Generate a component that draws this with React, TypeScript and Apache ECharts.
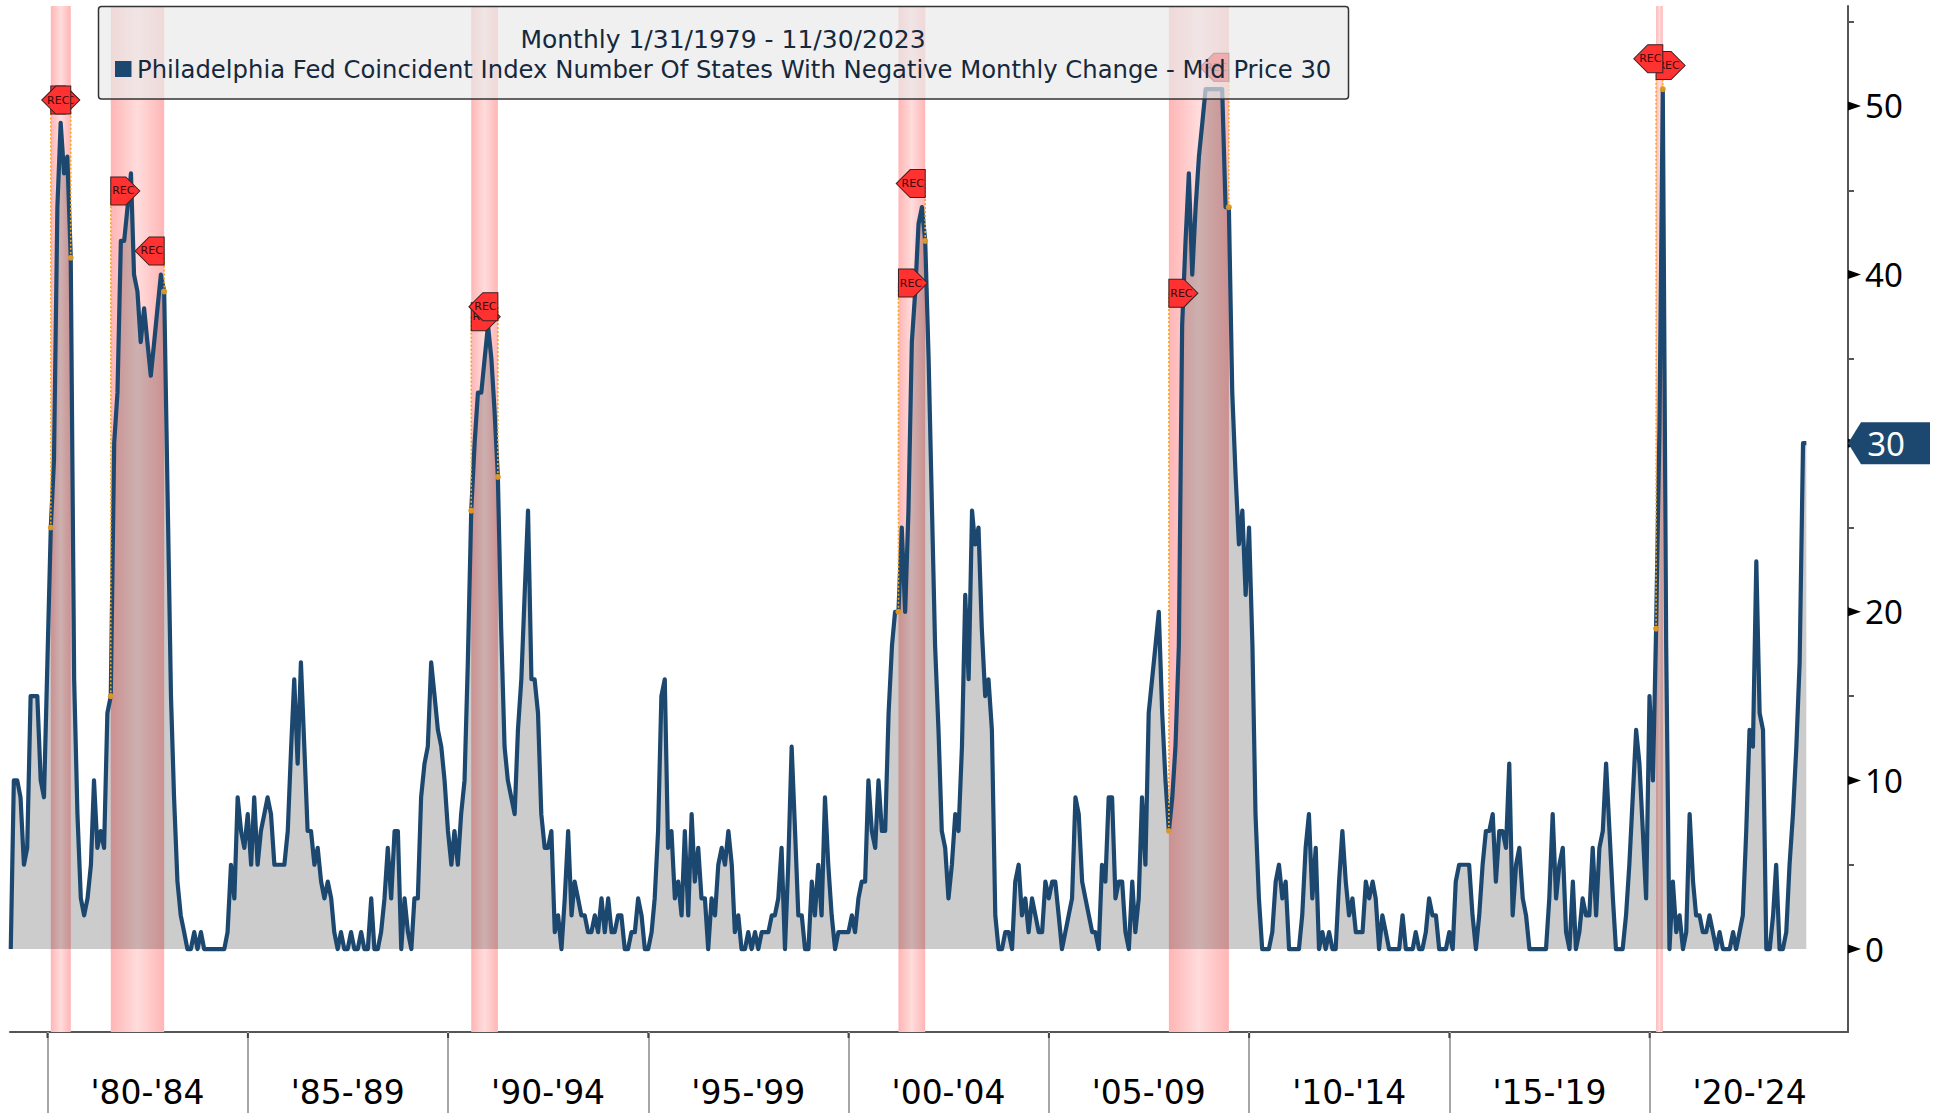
import React, { useEffect, useRef } from "react";
import * as echarts from "echarts";

const values1979to1984 = [
  0,10,10,9,5,6,15,15,15,10,9,17,
  25,29,44,49,46,47,41,16,8,3,2,3,
  5,10,6,7,6,14,15,30,33,42,42,44,
  46,40,39,36,38,36,34,36,38,40,39,27,
  15,9,4,2,1,0,0,1,0,1,0,0,
  0,0,0,0,0,1,5,3,9,7,6,8,
];
const values1985to1989 = [
  5,9,5,7,8,9,8,5,5,5,5,7,
  12,16,11,17,12,7,7,5,6,4,3,4,
  3,1,0,1,0,0,1,0,0,1,0,0,
  3,0,0,1,3,6,3,7,7,0,3,1,
  0,3,3,9,11,12,17,15,13,12,10,7,
];
const values1990to1994 = [
  5,7,5,8,10,17,26,30,33,33,35,37,
  35,32,28,19,12,10,9,8,13,16,21,26,
  16,16,14,8,6,6,7,1,2,0,3,7,
  2,4,3,2,2,1,1,2,1,3,1,3,
  1,1,2,2,0,0,1,1,3,2,0,0,
];
const values1995to1999 = [
  1,3,7,15,16,6,7,3,4,2,7,2,
  8,4,6,3,3,0,3,2,5,6,5,7,
  5,1,2,0,0,1,0,1,0,1,1,1,
  2,2,3,6,0,5,12,7,2,2,0,0,
  4,2,5,2,9,5,2,0,1,1,1,1,
];
const values2000to2004 = [
  2,1,3,4,4,10,7,6,10,7,7,14,
  18,20,20,25,20,26,36,39,43,44,42,35,
  26,18,13,7,6,3,5,8,7,12,21,16,
  26,24,25,19,15,16,13,2,0,0,1,1,
  0,4,5,2,3,1,3,2,1,1,4,3,
];
const values2005to2009 = [
  4,4,2,0,1,2,3,9,8,4,3,2,
  1,1,0,5,4,9,9,3,4,4,1,0,
  4,1,3,9,5,14,16,18,20,14,10,7,
  9,12,18,37,42,46,40,44,47,49,51,51,
  51,51,51,51,44,44,33,28,24,26,21,25,
];
const values2010to2014 = [
  18,8,3,0,0,0,1,4,5,3,4,0,
  0,0,0,2,6,8,3,6,0,1,0,1,
  0,0,4,7,4,2,3,1,1,1,4,3,
  4,3,0,2,1,0,0,0,0,2,0,0,
  0,1,0,0,1,3,2,2,0,0,0,1,
];
const values2015to2019 = [
  0,4,5,5,5,5,2,0,2,5,7,7,
  8,4,7,7,6,11,2,5,6,3,2,0,
  0,0,0,0,0,3,8,3,5,6,1,0,
  4,0,1,3,2,2,6,2,6,7,11,7,
  3,0,0,0,2,5,9,13,11,7,3,15,
];
const values2020to2023 = [
  10,19,31,51,18,0,4,1,2,0,1,8,
  4,2,2,1,1,2,1,0,1,0,0,0,
  1,0,1,2,7,13,12,23,14,13,0,0,
  2,5,0,0,1,5,8,12,17,30,30,
];
const seriesValues = [
  ...values1979to1984, ...values1985to1989, ...values1990to1994,
  ...values1995to1999, ...values2000to2004, ...values2005to2009,
  ...values2010to2014, ...values2015to2019, ...values2020to2023,
];

const periodLabels = ["'80-'84", "'85-'89", "'90-'94", "'95-'99", "'00-'04", "'05-'09", "'10-'14", "'15-'19", "'20-'24"];
const periodYears = [1980, 1985, 1990, 1995, 2000, 2005, 2010, 2015, 2020];
const yLabelValues = [0, 10, 20, 30, 40, 50];
const yMinorValues = [5, 15, 25, 35, 45, 55];

// [first month, last month] of each recession, as [year, month]
const recessions = [
  [[1980, 1], [1980, 7]],
  [[1981, 7], [1982, 11]],
  [[1990, 7], [1991, 3]],
  [[2001, 3], [2001, 11]],
  [[2007, 12], [2009, 6]],
  [[2020, 2], [2020, 4]],
];
const startFlagLevels = [50.35, 44.96, 37.5, 39.5, 38.9, 52.4];
const endFlagLevels = [50.35, 41.4, 38.1, 45.4, 52.3, 52.8];

const legendTitle = "Monthly 1/31/1979 - 11/30/2023";
const legendName = "Philadelphia Fed Coincident Index Number Of States With Negative Monthly Change - Mid Price 30";
const lastValue = 30;

const AXIS_MIN = Date.UTC(1979, 0, 24);
const AXIS_MAX = Date.UTC(2024, 11, 14);
const Y_MIN = -4.92;
const Y_MAX = 55.93;
const BLUE = "#1c4870";
const FONT = "Noto Sans";
const LEGEND_FONT = "DejaVu Sans";

const monthEnd = (y: number, m: number) => Date.UTC(y, m, 0);
const monthIndex = (y: number, m: number) => (y - 1979) * 12 + (m - 1);
const dateOfIndex = (i: number) => monthEnd(1979 + Math.floor(i / 12), (i % 12) + 1);

export default function App() {
  const ref = useRef<HTMLDivElement>(null);
  useEffect(() => {
    document.body.style.margin = "0";
    const chart = echarts.init(ref.current!, null, { renderer: "svg" });
    const line = seriesValues.map((v, i) => [dateOfIndex(i), v]);
    const bandGradient = new echarts.graphic.LinearGradient(0, 0, 1, 0, [
      { offset: 0, color: "#ffb5b5" },
      { offset: 0.5, color: "#ffdcdc" },
      { offset: 1, color: "#ffb5b5" },
    ]);
    const startPts = recessions.map((r, k) => {
      const i = monthIndex(r[0][0], r[0][1]);
      return { date: dateOfIndex(i), value: seriesValues[i], flag: startFlagLevels[k] };
    });
    const endPts = recessions.map((r, k) => {
      const i = monthIndex(r[1][0], r[1][1]);
      return { date: dateOfIndex(i), value: seriesValues[i], flag: endFlagLevels[k] };
    });
    const allPts = [...startPts, ...endPts];
    const flagLabel = (dx: number) => ({
      show: true,
      formatter: "REC",
      position: "inside",
      offset: [dx, 0],
      fontFamily: LEGEND_FONT,
      fontSize: 11,
      color: "#3a0a0a",
    });
    const flagStyle = { color: "#ff3131", borderColor: "#3c2020", borderWidth: 1, opacity: 1 };

    chart.setOption({
      animation: false,
      backgroundColor: "#ffffff",
      grid: { left: 10, right: 91, top: 6, bottom: 81, containLabel: false },
      xAxis: {
        type: "value",
        min: AXIS_MIN,
        max: AXIS_MAX,
        scale: true,
        boundaryGap: [0, 0],
        axisLine: { show: true, onZero: false, lineStyle: { color: "#555555", width: 2 } },
        axisTick: {
          show: true,
          length: 81,
          customValues: periodYears.map((y) => Date.UTC(y, 0, 1)),
          lineStyle: { color: "#a6a6a6", width: 2 },
        },
        axisLabel: {
          show: true,
          customValues: periodYears.map((y) => Date.UTC(y + 2, 6, 1)),
          formatter: (v: number) => periodLabels[periodYears.indexOf(new Date(v).getUTCFullYear() - 2)],
          color: "#000000",
          fontFamily: LEGEND_FONT,
          fontSize: 33,
          margin: 44,
          hideOverlap: false,
          showMinLabel: true,
          showMaxLabel: true,
        },
        splitLine: { show: false },
      },
      yAxis: {
        type: "value",
        position: "right",
        min: Y_MIN,
        max: Y_MAX,
        axisLine: { show: true, onZero: false, lineStyle: { color: "#555555", width: 2 } },
        axisTick: {
          show: true,
          length: 6,
          customValues: yMinorValues,
          lineStyle: { color: "#555555", width: 2 },
        },
        axisLabel: {
          show: true,
          customValues: yLabelValues,
          color: "#000000",
          fontFamily: FONT,
          fontSize: 33,
          margin: 17,
        },
        splitLine: { show: false },
      },
      series: [
        {
          name: "bands",
          type: "line",
          z: 1,
          silent: true,
          data: [],
          markArea: {
            silent: true,
            itemStyle: { color: bandGradient, opacity: 1 },
            data: recessions.map((r) => [
              { xAxis: dateOfIndex(monthIndex(r[0][0], r[0][1])) },
              { xAxis: dateOfIndex(monthIndex(r[1][0], r[1][1])) },
            ]),
          },
        },
        {
          name: "Philadelphia Fed",
          type: "line",
          z: 2,
          data: line,
          symbol: "none",
          smooth: false,
          lineStyle: { color: BLUE, width: 4.2, join: "round" },
          areaStyle: { color: "rgba(0,0,0,0.2)", origin: 0, opacity: 1 },
        },
        ...allPts.map((p) => ({
          type: "line",
          z: 3,
          symbol: "none",
          silent: true,
          clip: false,
          data: [[p.date, p.value], [p.date, p.flag]],
          lineStyle: { color: "#f5a623", width: 1.6, type: [2, 2] },
        })),
        {
          type: "scatter",
          z: 3,
          symbol: "circle",
          symbolSize: 6,
          silent: true,
          clip: false,
          itemStyle: { color: "#e09a28", opacity: 0.95 },
          data: allPts.map((p) => [p.date, p.value]),
        },
        {
          type: "scatter",
          z: 4,
          symbol: "path://M0 0 H15 L29 14 L15 28 H0 Z",
          symbolSize: [29, 28],
          symbolKeepAspect: false,
          symbolOffset: [14.5, 0],
          silent: true,
          clip: false,
          itemStyle: flagStyle,
          label: flagLabel(-2),
          data: startPts.map((p) => [p.date, p.flag]),
        },
        {
          type: "scatter",
          z: 5,
          symbol: "path://M29 0 H14 L0 14 L14 28 H29 Z",
          symbolSize: [29, 28],
          symbolKeepAspect: false,
          symbolOffset: [-14.5, 0],
          silent: true,
          clip: false,
          itemStyle: flagStyle,
          label: flagLabel(2),
          data: endPts.map((p) => [p.date, p.flag]),
        },
        {
          type: "scatter",
          z: 6,
          symbol: "path://M0 0 L13 4.5 L0 9 Z",
          symbolSize: [13, 9],
          symbolKeepAspect: false,
          symbolOffset: [6.5, 0],
          silent: true,
          clip: false,
          itemStyle: { color: "#000000", opacity: 1 },
          data: yLabelValues.map((v) => [AXIS_MAX, v]),
        },
        {
          type: "scatter",
          z: 6,
          symbol: "rect",
          symbolSize: [2, 5],
          symbolKeepAspect: false,
          symbolOffset: [0, 3.5],
          silent: true,
          clip: false,
          itemStyle: { color: "#444444", opacity: 1 },
          data: periodYears.map((y) => [Date.UTC(y, 0, 1), Y_MIN]),
        },
        {
          type: "scatter",
          z: 7,
          symbol: "path://M0 21 L13 0 H82 V42 H13 Z",
          symbolSize: [82, 42],
          symbolKeepAspect: false,
          symbolOffset: [41, 0],
          silent: true,
          clip: false,
          itemStyle: { color: BLUE, opacity: 1 },
          label: {
            show: true,
            formatter: String(lastValue),
            position: "inside",
            offset: [-3, 0],
            color: "#ffffff",
            fontFamily: FONT,
            fontSize: 33,
          },
          data: [[AXIS_MAX, lastValue]],
        },
      ],
      graphic: [
        {
          type: "rect",
          z: 100,
          silent: true,
          shape: { x: 98.5, y: 6.5, width: 1250, height: 92.5, r: 3 },
          style: { fill: "rgba(233,233,233,0.68)", stroke: "#333333", lineWidth: 1.5 },
        },
        {
          type: "rect",
          z: 101,
          silent: true,
          shape: { x: 115, y: 61, width: 16.5, height: 16 },
          style: { fill: BLUE },
        },
        {
          type: "text",
          z: 101,
          silent: true,
          x: 723,
          y: 39,
          style: {
            text: legendTitle,
            fontFamily: LEGEND_FONT,
            fontSize: 25,
            fill: "#16283c",
            textAlign: "center",
            textVerticalAlign: "middle",
          },
        },
        {
          type: "text",
          z: 101,
          silent: true,
          x: 137,
          y: 69,
          style: {
            text: legendName,
            fontFamily: LEGEND_FONT,
            fontSize: 24.3,
            fill: "#16283c",
            textAlign: "left",
            textVerticalAlign: "middle",
          },
        },
      ],
    });
    return () => chart.dispose();
  }, []);
  return <div ref={ref} style={{ position: "absolute", left: 0, top: 0, width: 1939, height: 1113 }} />;
}
